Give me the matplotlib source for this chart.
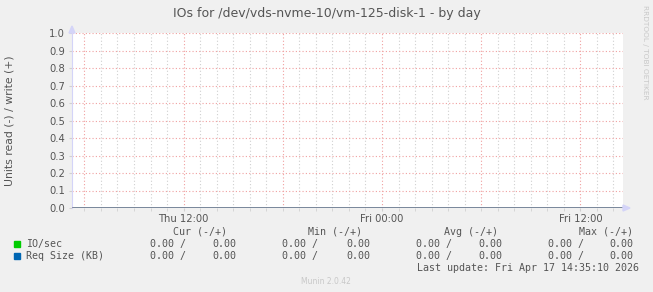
import matplotlib
matplotlib.use("Agg")
import matplotlib.pyplot as plt
from matplotlib.patches import Polygon, Rectangle

# -----------------------------
# Data (hours since Thu 00:00)
# -----------------------------
t_start = 5.25
t_end = 38.58
times = [5.25, 38.58]
io_read = [0.0, 0.0]
io_write = [0.0, 0.0]
req_read = [0.0, 0.0]
req_write = [0.0, 0.0]

xtick_pos = [12, 24, 36]
xtick_labels = ["Thu 12:00", "Fri 00:00", "Fri 12:00"]
ytick_pos = [0.0, 0.1, 0.2, 0.3, 0.4, 0.5, 0.6, 0.7, 0.8, 0.9, 1.0]

series_names = ["IO/sec", "Req Size (KB)"]
series_colors = ["#00cc00", "#0066b3"]
cur = [("0.00", "0.00"), ("0.00", "0.00")]
mins = [("0.00", "0.00"), ("0.00", "0.00")]
avgs = [("0.00", "0.00"), ("0.00", "0.00")]
maxs = [("0.00", "0.00"), ("0.00", "0.00")]

W, H = 653, 292
TXT = "#555555"
AXC = "#d4d4f8"


def px(x, y):
    return (x / W, 1 - y / H)


fig = plt.figure(figsize=(W / 100, H / 100), dpi=100, facecolor="#f0f0f0")
ax = fig.add_axes([72 / W, 84 / H, 551 / W, 175 / H])
ax.set_facecolor("white")

# -----------------------------
# Grid
# -----------------------------
for h in range(6, 39):
    if h % 6 == 0:
        ax.axvline(h, color="#f0a0a0", lw=0.8, ls=(0, (1, 2)), zorder=1)
    else:
        ax.axvline(h, color="#d0d0d0", lw=0.8, ls=(0, (1, 2)), zorder=1)
for y in ytick_pos[1:]:
    ax.axhline(y, color="#f0a0a0", lw=0.8, ls=(0, (1, 2)), zorder=1)

# -----------------------------
# Series
# -----------------------------
ax.plot(times, io_read, color=series_colors[0], lw=1)
ax.plot(times, io_write, color=series_colors[0], lw=1)
ax.plot(times, req_read, color=series_colors[1], lw=1)
ax.plot(times, req_write, color=series_colors[1], lw=1)
ax.axhline(0, color="#7f7f9a", lw=1.2, zorder=5)

ax.set_xlim(t_start, t_end)
ax.set_ylim(0, 1.0)
ax.set_xticks(xtick_pos)
ax.set_xticklabels(xtick_labels)
ax.set_xticks(list(range(6, 39)), minor=True)
ax.set_yticks(ytick_pos)
ax.set_yticklabels(["%.1f" % v for v in ytick_pos])
ax.tick_params(axis="x", which="both", length=2, color="#d0d0d0", colors=TXT,
               labelsize=7.2, pad=2)
ax.tick_params(axis="y", length=2, color="#d0d0d0", labelcolor=TXT, labelsize=7.2, pad=3)

for s in ["top", "right", "bottom"]:
    ax.spines[s].set_visible(False)
ax.spines["left"].set_color(AXC)

# axis arrows
fig.patches.append(Polygon([px(72, 26), px(69, 33), px(75, 33)], closed=True,
                           transform=fig.transFigure, color=AXC))
fig.patches.append(Polygon([px(630, 208), px(623, 205), px(623, 211)], closed=True,
                           transform=fig.transFigure, color=AXC))

# -----------------------------
# Texts
# -----------------------------
fig.text(*px(327, 13), "IOs for /dev/vds-nvme-10/vm-125-disk-1 - by day",
         ha="center", va="center", fontsize=9, color=TXT)
fig.text(*px(10, 121), "Units read (-) / write (+)", rotation=90,
         ha="center", va="center", fontsize=7.8, color=TXT)
fig.text(*px(645, 52), "RRDTOOL / TOBI OETIKER", rotation=270,
         ha="center", va="center", fontsize=5.3, color="#c8c8c8")

mono = dict(family="DejaVu Sans Mono", fontsize=7.2, color=TXT, va="center")
headers = ["Cur (-/+)", "Min (-/+)", "Avg (-/+)", "Max (-/+)"]
header_x = [173, 308, 444, 579]
for hx, ht in zip(header_x, headers):
    fig.text(*px(hx, 232), ht, **mono)

col_x = [(150, 212), (282, 346), (416, 478), (548, 609)]
row_y = [244, 256]
for i, name in enumerate(series_names):
    y = row_y[i]
    fig.patches.append(Rectangle(px(14, y + 3), 6 / W, 6 / H,
                                 transform=fig.transFigure, color=series_colors[i]))
    fig.text(*px(26, y), name, **mono)
    for (x1, x2), vals in zip(col_x, [cur[i], mins[i], avgs[i], maxs[i]]):
        fig.text(*px(x1, y), vals[0] + " /", **mono)
        fig.text(*px(x2, y), vals[1], **mono)

fig.text(*px(417, 268), "Last update: Fri Apr 17 14:35:10 2026", **mono)
fig.text(*px(326, 281), "Munin 2.0.42", ha="center", va="center",
         fontsize=5.5, color="#c8c8c8")

fig.savefig("out.png", dpi=100, facecolor=fig.get_facecolor())
